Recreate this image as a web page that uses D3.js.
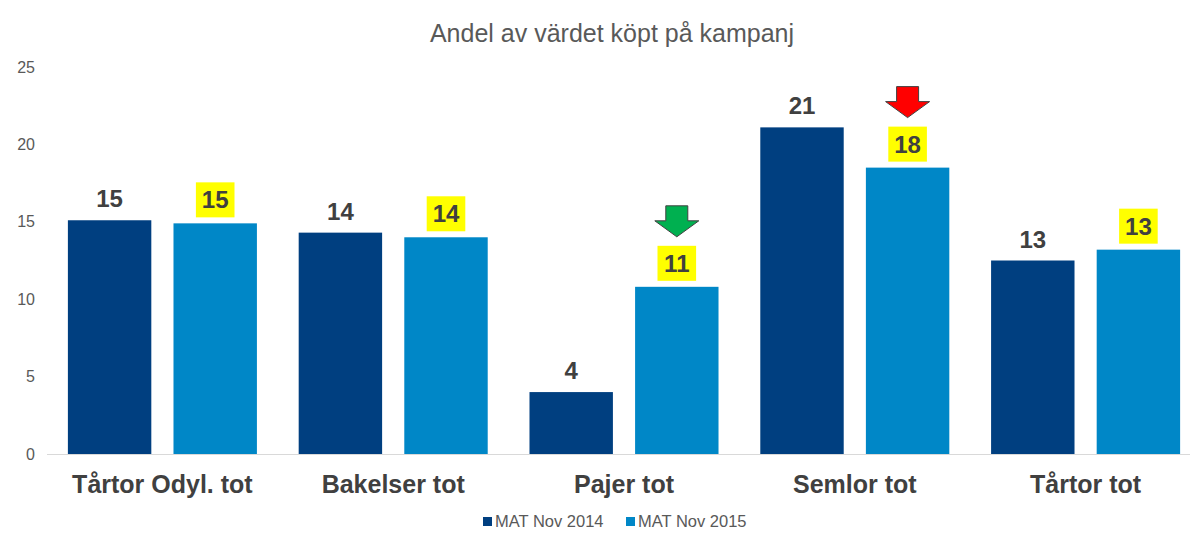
<!DOCTYPE html>
<html><head><meta charset="utf-8">
<script src="https://cdn.jsdelivr.net/npm/d3@7"></script>
<style>body{margin:0;background:#fff}svg{display:block}text{font-family:Arial,"Liberation Sans",sans-serif}</style>
</head><body>
<svg id="c" width="1204" height="546"></svg>
<script>
const categories = ["Tårtor Odyl. tot","Bakelser tot","Pajer tot","Semlor tot","Tårtor tot"];
const seriesNames = ["MAT Nov 2014","MAT Nov 2015"];
const mat2014 = [15.1, 14.3, 4.0, 21.1, 12.5];
const mat2015 = [14.9, 14.0, 10.8, 18.5, 13.2];
const labels2014 = ["15","14","4","21","13"];
const labels2015 = ["15","14","11","18","13"];
const arrows = [null, null, "green", "red", null];
const yTicks = [0,5,10,15,20,25];
const colors = ["#003F80","#0087C7"];

(function(){
const svg = d3.select("#c");
const pLeft=47,pRight=1201,pTop=67,pBottom=454;
const x0=d3.scaleBand().domain(categories).range([pLeft,pRight]).paddingInner(0.181).paddingOuter(0.0905);
const x1=d3.scaleBand().domain(seriesNames).range([0,x0.bandwidth()]).paddingInner(0.21).paddingOuter(0);
const y=d3.scaleLinear().domain([0,25]).range([pBottom,pTop]);

svg.append("text").attr("x",612).attr("y",42).attr("text-anchor","middle").attr("font-size",25).attr("fill","#595959").text("Andel av värdet köpt på kampanj");

const yAxis=d3.axisLeft(y).tickValues(yTicks).tickSize(0).tickPadding(0);
const ya=svg.append("g").attr("transform","translate(35,0)").call(yAxis);
ya.select(".domain").remove();
ya.selectAll("text").attr("font-size",16).attr("fill","#595959").attr("font-family","Arial,'Liberation Sans',sans-serif");

svg.append("line").attr("x1",pLeft).attr("x2",1190).attr("y1",pBottom+0.5).attr("y2",pBottom+0.5).attr("stroke","#D9D9D9").attr("stroke-width",1);

const data=categories.map((c,i)=>({c,vals:[mat2014[i],mat2015[i]],labs:[labels2014[i],labels2015[i]],arrow:arrows[i]}));
const g=svg.selectAll("g.grp").data(data).enter().append("g").attr("class","grp").attr("transform",d=>`translate(${x0(d.c)},0)`);
g.selectAll("rect").data(d=>d.vals.map((v,j)=>({v,j,s:seriesNames[j]}))).enter().append("rect")
 .attr("x",d=>x1(d.s)).attr("width",x1.bandwidth()).attr("y",d=>y(d.v)).attr("height",d=>pBottom-y(d.v)).attr("fill",d=>colors[d.j]);

g.each(function(d){
  const gg=d3.select(this);
  const bw=x1.bandwidth();
  const cx0=x1(seriesNames[0])+bw/2;
  gg.append("text").attr("x",cx0).attr("y",y(d.vals[0])-13).attr("text-anchor","middle").attr("font-size",24).attr("font-weight","bold").attr("fill","#404040").text(d.labs[0]);
  const cx1=x1(seriesNames[1])+bw/2;
  const boxBottom=y(d.vals[1])-6;
  const boxTop=boxBottom-35;
  const bwid=d.labs[1].length*13.3+12;
  gg.append("rect").attr("x",cx1-bwid/2).attr("y",boxTop).attr("width",bwid).attr("height",35).attr("fill","#FFFF00");
  gg.append("text").attr("x",cx1).attr("y",boxTop+17.5+8.5).attr("text-anchor","middle").attr("font-size",24).attr("font-weight","bold").attr("fill","#404040").text(d.labs[1]);
  if(d.arrow){
    const tip=boxTop-9;
    const col=d.arrow==="green"?"#00B050":"#FF0000";
    const p=[[cx1-11,tip-31],[cx1+11,tip-31],[cx1+11,tip-16],[cx1+22,tip-16],[cx1,tip],[cx1-22,tip-16],[cx1-11,tip-16]];
    gg.append("path").attr("d","M"+p.map(q=>q.join(",")).join("L")+"Z").attr("fill",col).attr("stroke","#404040").attr("stroke-width",1);
  }
});

const xa=svg.append("g").attr("transform",`translate(0,${pBottom})`).call(d3.axisBottom(x0).tickSize(0).tickPadding(0));
xa.select(".domain").remove();
xa.selectAll("text").attr("dy",0).attr("y",39).attr("font-size",25).attr("font-weight","bold").attr("fill","#404040").attr("font-family","Arial,'Liberation Sans',sans-serif");

const lx=[483,626];
seriesNames.forEach((s,i)=>{
  svg.append("rect").attr("x",lx[i]).attr("y",517).attr("width",9).attr("height",9).attr("fill",colors[i]);
  svg.append("text").attr("x",lx[i]+12).attr("y",527).attr("font-size",16.5).attr("fill","#595959").text(s);
});
})();
</script>
</body></html>
